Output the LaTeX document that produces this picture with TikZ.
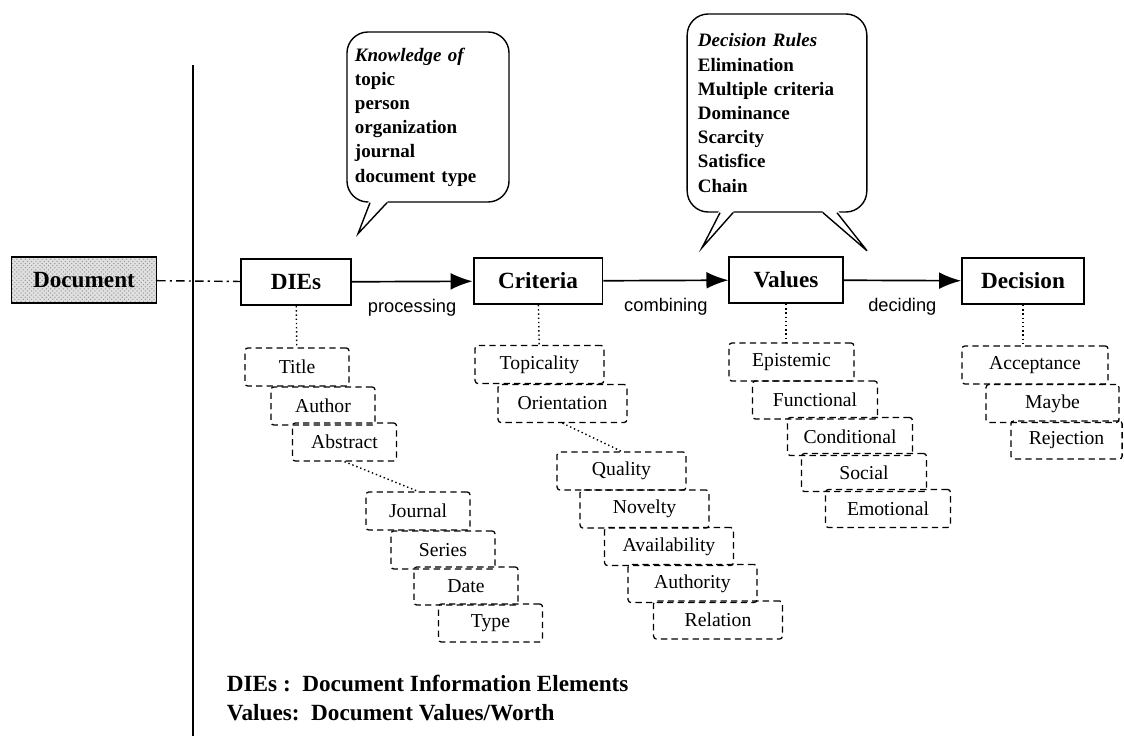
\documentclass[tikz,border=0pt]{standalone}
\usepackage{fontspec}
\setmainfont{Liberation Serif}
\setsansfont{Liberation Sans}
\usetikzlibrary{arrows.meta,patterns,calc}

\begin{document}
\begin{tikzpicture}[x=0.025cm,y=-0.025cm,
  stage/.style={rectangle,draw=black,line width=1.3pt,minimum height=1.15cm,font=\fontsize{16.5}{19}\selectfont\bfseries},
  doc/.style={stage,line width=1pt,preaction={fill=black!12},pattern=crosshatch dots,pattern color=black!40},
  elem/.style={rectangle,draw=black,line width=0.9pt,dash pattern=on 4.5pt off 3pt,rounded corners=2pt,minimum height=0.95cm,font=\fontsize{14}{16}\selectfont},
  dielem/.style={elem,minimum width=2.6cm},
  critem/.style={elem,minimum width=3.22cm},
  valem/.style={elem,minimum width=3.12cm},
  lbl/.style={font=\sffamily\fontsize{13}{15}\selectfont},
  bubble/.style={rectangle,draw=black,line width=1pt,rounded corners=15pt,align=left,font=\fontsize{13.5}{17.2}\selectfont\bfseries},
  flow/.style={line width=1.2pt,-{Latex[length=5.5mm,width=4.2mm]}},
  link/.style={dotted,line width=1pt}]

  \useasboundingbox (0,0) rectangle (1124,736) ;

  % main chain
  \node[doc,minimum width=3.62cm]   at (84,280)   (document) {Document} ;
  \node[stage,minimum width=2.73cm] at (296,282)  (dies)     {DIEs}     ;
  \node[stage,minimum width=3.22cm] at (538,281)  (criteria) {Criteria} ;
  \node[stage,minimum width=2.83cm] at (786,280)  (values)   {Values}   ;
  \node[stage,minimum width=3.05cm] at (1023,281) (decision) {Decision} ;

  % document information elements
  \node[dielem] at (297,367)   (title)    {Title}    ;
  \node[dielem] at (323,406)   (author)   {Author}   ;
  \node[dielem] at (344.5,442) (abstract) {Abstract} ;
  \node[dielem] at (418,511)   (journal)  {Journal}  ;
  \node[dielem] at (443,550)   (series)   {Series}   ;
  \node[dielem] at (466,586)   (date)     {Date}     ;
  \node[dielem] at (490.5,623) (doctype)  {Type}     ;

  % criteria
  \node[critem] at (539.5,364.5) (topicality)   {Topicality}   ;
  \node[critem] at (562.5,403.5) (orientation)  {Orientation}  ;
  \node[critem] at (621.5,471)   (quality)      {Quality}      ;
  \node[critem] at (644.5,509)   (novelty)      {Novelty}      ;
  \node[critem] at (669,546.5)   (availability) {Availability} ;
  \node[critem] at (692.5,583.5) (authority)    {Authority}    ;
  \node[critem] at (718,620)     (relation)     {Relation}     ;

  % values
  \node[valem] at (791.5,362) (epistemic)   {Epistemic}   ;
  \node[valem] at (815,400)   (functional)  {Functional}  ;
  \node[valem] at (850,436.5) (conditional) {Conditional} ;
  \node[valem] at (864,472.5) (social)      {Social}      ;
  \node[valem] at (888,508.5) (emotional)   {Emotional}   ;

  % decisions
  \node[elem,minimum width=3.65cm] at (1035,365)    (acceptance) {Acceptance} ;
  \node[elem,minimum width=3.32cm] at (1052.5,403.5) (maybe)     {Maybe}      ;
  \node[elem,minimum width=2.78cm] at (1066.5,440)  (rejection)  {Rejection}  ;

  % bubbles
  \node[bubble,text width=3.65cm,inner xsep=0.2cm,minimum height=4.25cm] at (428,117) (knowledge)
    {\textit{Knowledge of}\\topic\\person\\organization\\journal\\document type} ;
  \node[bubble,text width=3.95cm,inner xsep=0.27cm,minimum height=4.95cm] at (777,113) (rules)
    {\textit{Decision Rules}\\Elimination\\Multiple criteria\\Dominance\\Scarcity\\Satisfice\\Chain} ;

  \fill[white] ($(knowledge.south)+(-59,-2)$) -- ($(knowledge.south)+(-70,31)$) -- ($(knowledge.south)+(-40,-2)$) -- cycle ;
  \draw[line width=1pt] ($(knowledge.south)+(-58,0)$) -- ($(knowledge.south)+(-70,31)$) -- ($(knowledge.south)+(-41,0)$) ;
  \fill[white] ($(rules.south)+(-58,-2)$) -- ($(rules.south)+(-75,35)$) -- ($(rules.south)+(-43,-2)$) -- cycle ;
  \draw[line width=1pt] ($(rules.south)+(-57,0)$) -- ($(rules.south)+(-75,35)$) -- ($(rules.south)+(-44,0)$) ;
  \fill[white] ($(rules.south)+(45,-2)$) -- ($(rules.south)+(90,38)$) -- ($(rules.south)+(61,-2)$) -- cycle ;
  \draw[line width=1pt] ($(rules.south)+(46,0)$) -- ($(rules.south)+(90,38)$) -- ($(rules.south)+(60,0)$) ;

  % separator and legend
  \coordinate (septop) at (193,65) ;
  \coordinate (sepbot) at (193,736) ;
  \draw[line width=1.2pt] (septop) -- (sepbot) ;
  \node[anchor=west,align=left,font=\fontsize{16.5}{21}\selectfont\bfseries] at (222,698) (legend)
    {DIEs :\ \ Document Information Elements\\Values:\ \ Document Values/Worth} ;

  \draw[line width=1pt,dash pattern=on 6pt off 3pt on 1.5pt off 3pt] (document) -- (dies) ;
  \draw[flow] (dies)     -- node[lbl,yshift=-0.65cm] {processing} (criteria) ;
  \draw[flow] (criteria) -- node[lbl,yshift=-0.65cm] {combining}  (values)   ;
  \draw[flow] (values)   -- node[lbl,yshift=-0.65cm] {deciding}   (decision) ;

  \draw[link] (dies)              -- (title) ;
  \draw[link] (criteria)          -- (topicality) ;
  \draw[link] (values)            -- (values |- epistemic.north) ;
  \draw[link] (decision)          -- (decision |- acceptance.north) ;
  \draw[link] (abstract.south)    -- (journal.north) ;
  \draw[link] (orientation.south) -- (quality.north) ;

\end{tikzpicture}
\end{document}
